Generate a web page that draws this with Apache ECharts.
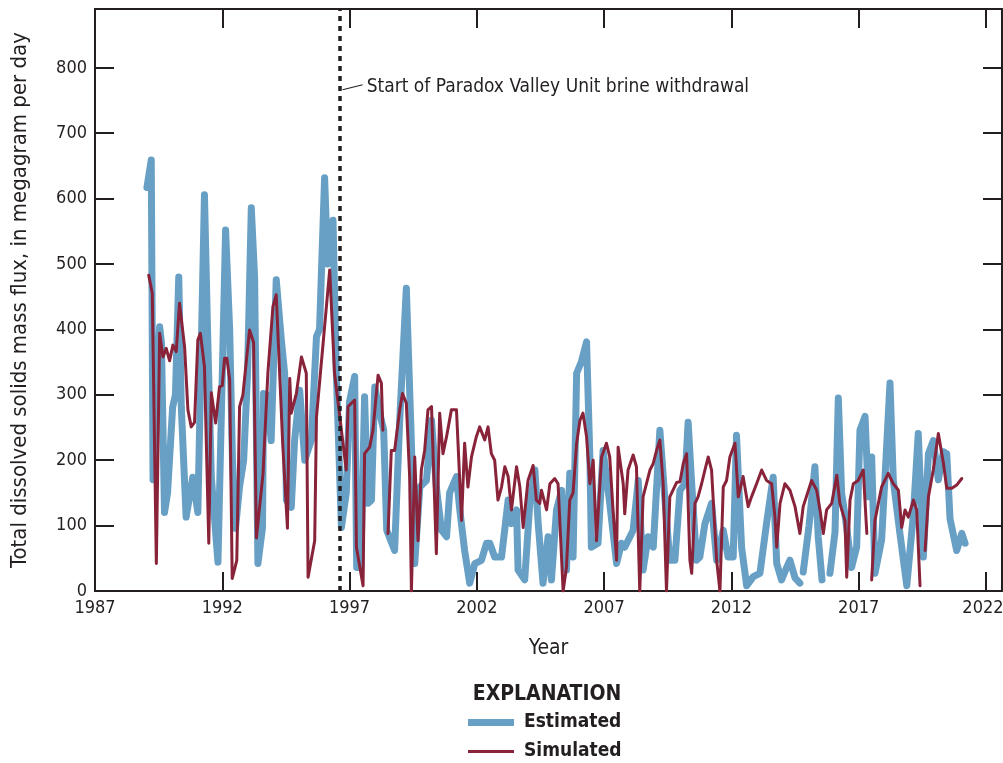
<!DOCTYPE html>
<html><head><meta charset="utf-8">
<script src="https://cdn.jsdelivr.net/npm/echarts@6/dist/echarts.min.js"></script>
<style>html,body{margin:0;padding:0;background:#fff;overflow:hidden}#c{width:1003px;height:763px}</style>
</head><body><div id="c"></div>
<script>
// ---- data ----
const estYear = [1989.04,1989.21,1989.28,1989.54,1989.61,1989.73,1989.85,1990.05,1990.16,1990.29,1990.39,1990.58,1990.84,1991.04,1991.30,1991.42,1991.57,1991.83,1992.13,1992.29,1992.40,1992.52,1992.68,1992.84,1992.99,1993.14,1993.27,1993.40,1993.58,1993.62,1993.76,1993.92,1994.12,1994.32,1994.45,1994.52,1994.71,1994.84,1995.04,1995.24,1995.50,1995.70,1995.82,1996.02,1996.14,1996.35,1996.48,1996.68,1996.87,1997.00,1997.20,1997.28,1997.44,1997.59,1997.72,1997.86,1997.99,1998.25,1998.34,1998.46,1998.77,1998.97,1999.23,1999.43,1999.56,1999.76,2000.02,2000.22,2000.41,2000.61,2000.81,2000.93,2001.20,2001.33,2001.52,2001.72,2001.92,2002.18,2002.38,2002.51,2002.70,2002.97,2003.23,2003.36,2003.56,2003.62,2003.88,2004.08,2004.28,2004.41,2004.60,2004.80,2004.93,2005.13,2005.33,2005.52,2005.65,2005.78,2005.92,2006.11,2006.31,2006.44,2006.50,2006.76,2006.96,2007.22,2007.49,2007.68,2007.81,2008.14,2008.34,2008.53,2008.73,2008.93,2009.19,2009.39,2009.58,2009.78,2009.98,2010.17,2010.30,2010.44,2010.63,2010.76,2010.96,2011.22,2011.42,2011.68,2011.87,2012.07,2012.20,2012.40,2012.60,2012.86,2013.12,2013.38,2013.64,2013.78,2013.97,2014.17,2014.30,2014.50,2014.69,2014.75,2014.82,2015.05,2015.28,2015.41,2015.56,2015.70,2015.87,2016.07,2016.20,2016.33,2016.53,2016.72,2016.92,2017.05,2017.25,2017.38,2017.51,2017.64,2017.90,2018.07,2018.23,2018.36,2018.62,2018.89,2019.15,2019.34,2019.54,2019.74,2019.93,2020.13,2020.33,2020.46,2020.59,2020.85,2021.05,2021.18];
const estValue = [617,659,170,404,380,120,150,281,300,480,281,113,174,120,606,400,174,44,552,400,200,96,160,200,330,586,480,42,97,302,300,230,476,384,333,139,128,230,307,200,231,389,400,632,500,567,333,97,150,290,328,36,36,297,134,139,312,261,246,93,62,261,463,226,42,159,169,261,159,93,83,150,175,124,62,12,42,47,73,73,52,52,139,103,124,32,17,134,185,103,12,83,17,124,154,32,180,52,333,351,381,205,67,73,215,134,42,73,67,93,169,32,83,67,246,139,47,47,154,164,258,164,47,52,103,134,47,93,52,52,238,67,8,22,27,103,174,42,17,36,47,20,12,null,29,100,190,83,17,null,27,90,295,150,97,36,67,246,267,144,205,27,78,200,318,169,88,8,118,241,52,210,230,170,213,210,110,62,88,73];
const simYear = [1989.11,1989.25,1989.41,1989.54,1989.67,1989.80,1989.93,1990.06,1990.19,1990.32,1990.39,1990.52,1990.65,1990.78,1990.91,1991.04,1991.14,1991.30,1991.47,1991.57,1991.74,1991.89,1992.00,1992.09,1992.18,1992.29,1992.39,1992.57,1992.68,1992.81,1993.07,1993.14,1993.23,1993.34,1993.60,1993.79,1993.99,1994.12,1994.38,1994.56,1994.65,1994.71,1994.91,1995.11,1995.30,1995.37,1995.63,1995.70,1996.22,1996.41,1996.68,1996.87,1996.94,1997.20,1997.27,1997.53,1997.59,1997.79,1997.92,1998.12,1998.25,1998.31,1998.40,1998.51,1998.64,1998.77,1998.97,1999.08,1999.23,1999.36,1999.43,1999.56,1999.69,1999.82,1999.95,2000.08,2000.22,2000.41,2000.54,2000.67,2000.81,2001.00,2001.20,2001.40,2001.52,2001.65,2001.79,2001.98,2002.11,2002.31,2002.44,2002.57,2002.70,2002.83,2002.97,2003.10,2003.23,2003.36,2003.56,2003.69,2003.82,2004.01,2004.21,2004.34,2004.47,2004.54,2004.74,2004.87,2005.06,2005.19,2005.39,2005.52,2005.65,2005.78,2005.92,2006.05,2006.17,2006.31,2006.44,2006.57,2006.70,2006.90,2007.09,2007.22,2007.35,2007.49,2007.55,2007.75,2007.81,2007.94,2008.14,2008.27,2008.40,2008.53,2008.80,2008.93,2009.06,2009.19,2009.32,2009.45,2009.58,2009.85,2009.98,2010.11,2010.24,2010.37,2010.44,2010.57,2010.69,2010.83,2010.96,2011.09,2011.22,2011.42,2011.55,2011.68,2011.81,2011.94,2012.14,2012.27,2012.46,2012.66,2012.79,2012.99,2013.19,2013.38,2013.58,2013.71,2013.78,2013.91,2014.10,2014.30,2014.50,2014.69,2014.82,2015.15,2015.35,2015.48,2015.61,2015.74,2015.94,2016.14,2016.26,2016.46,2016.53,2016.66,2016.79,2016.98,2017.18,2017.32,2017.42,2017.51,2017.64,2017.90,2018.16,2018.36,2018.56,2018.69,2018.82,2018.95,2019.15,2019.28,2019.41,2019.50,2019.61,2019.74,2019.93,2020.13,2020.33,2020.46,2020.66,2020.85,2021.05];
const simValue = [483,455,42,394,358,371,352,376,366,440,443,373,277,251,258,384,394,343,73,303,257,312,314,356,356,323,19,47,282,300,399,402,380,81,179,333,435,453,220,96,325,272,302,358,333,21,77,266,491,333,246,185,282,292,67,8,210,220,246,330,318,246,null,88,215,215,277,302,287,175,0,205,77,185,215,277,282,57,272,210,236,277,277,108,226,159,205,236,251,231,251,210,200,139,159,190,175,124,190,159,97,169,192,139,134,154,124,164,172,164,0,36,139,150,226,261,272,236,164,200,77,205,226,205,124,47,220,164,118,185,208,190,0,144,185,195,215,231,164,0,144,166,167,195,210,47,27,134,144,164,185,205,185,47,0,159,169,205,226,144,175,129,144,164,185,169,164,113,67,134,164,154,129,88,129,169,154,124,88,124,134,177,134,108,21,139,164,169,185,88,null,17,108,159,180,164,154,97,124,113,139,124,8,null,62,144,185,241,195,157,157,162,172];
const brineStartYear = 1996.61;
const xTicks = {min: 1987, max: 2022.63, step: 5};
const yTicks = {min: 0, max: 890, step: 100};
const seriesNames = ['Estimated', 'Simulated'];

const toPairs = (xs, ys) => xs.map((x, i) => [x, ys[i] == null ? '-' : ys[i]]);
const INK = '#231f20';
const FONT = '"Liberation Sans Narrow","DejaVu Sans Condensed","Arial Narrow",sans-serif';
const isMajor = (v, a) => Math.abs((v - a.min) / a.step - Math.round((v - a.min) / a.step)) < 1e-6;

const chart = echarts.init(document.getElementById('c'), null, {renderer: 'canvas', width: 1003, height: 763});
const baseX = {
  type: 'value', min: xTicks.min, max: xTicks.max, interval: xTicks.step,
  axisLine: {show: true, onZero: false, lineStyle: {color: INK, width: 2}},
  axisTick: {show: true, inside: true, length: 19, lineStyle: {color: INK, width: 2}},
  splitLine: {show: false}
};
const baseY = {
  type: 'value', min: yTicks.min, max: yTicks.max, interval: yTicks.step,
  axisLine: {show: true, onZero: false, lineStyle: {color: INK, width: 2}},
  axisTick: {show: true, inside: true, length: 19, lineStyle: {color: INK, width: 2}},
  splitLine: {show: false}
};
chart.setOption({
  animation: false,
  backgroundColor: '#fff',
  grid: {left: 95, right: 1, top: 9, bottom: 172, containLabel: false, outerBoundsMode: 'none'},
  xAxis: [
    Object.assign({}, baseX, {position: 'bottom', name: 'Year', nameLocation: 'middle', nameGap: 47,
      nameTextStyle: {fontFamily: FONT, fontSize: 21, color: INK},
      axisLabel: {show: true, margin: 8, fontFamily: FONT, fontSize: 18, color: INK, hideOverlap: false,
        formatter: v => {
          if (!isMajor(v, xTicks)) return '';
          const s = String(Math.round(v));
          return v + xTicks.step > xTicks.max ? '{e|' + s + '}' : s;
        },
        rich: {e: {fontFamily: FONT, fontSize: 18, color: INK, padding: [0, 6, 0, 0]}}}}),
    Object.assign({}, baseX, {position: 'top', axisLabel: {show: false}})
  ],
  yAxis: [
    Object.assign({}, baseY, {position: 'left', name: 'Total dissolved solids mass flux, in megagram per day',
      nameLocation: 'middle', nameGap: 64, nameRotate: 90,
      nameTextStyle: {fontFamily: FONT, fontSize: 22, color: INK},
      axisLabel: {show: true, margin: 8, fontFamily: FONT, fontSize: 18, color: INK,
        formatter: v => isMajor(v, yTicks) ? String(Math.round(v)) : ''}}),
    Object.assign({}, baseY, {position: 'right', axisLabel: {show: false}})
  ],
  legend: [
    {data: [{name: seriesNames[0], icon: 'rect'}], left: 468, top: 713, padding: 0, itemWidth: 46, itemHeight: 7,
      textStyle: {fontFamily: FONT, fontSize: 19, fontWeight: 'bold', color: INK, padding: [0, 0, 0, 5]}},
    {data: [{name: seriesNames[1], icon: 'rect'}], left: 468, top: 742, padding: 0, itemWidth: 46, itemHeight: 3,
      textStyle: {fontFamily: FONT, fontSize: 19, fontWeight: 'bold', color: INK, padding: [0, 0, 0, 5]}}
  ],
  series: [
    {name: seriesNames[0], type: 'line', data: toPairs(estYear, estValue), showSymbol: false, symbol: 'none',
      connectNulls: false, color: '#68a0c5',
      lineStyle: {color: '#68a0c5', width: 7, cap: 'round', join: 'round'}, z: 2},
    {name: seriesNames[1], type: 'line', data: toPairs(simYear, simValue), showSymbol: false, symbol: 'none',
      connectNulls: false, color: '#88233a',
      lineStyle: {color: '#88233a', width: 3, cap: 'round', join: 'round'}, z: 3,
      markLine: {silent: true, symbol: 'none', label: {show: false},
        lineStyle: {color: INK, width: 3.5, type: [5, 5]},
        data: [{xAxis: brineStartYear}]}}
  ]
});
const p0 = chart.convertToPixel({xAxisIndex: 0, yAxisIndex: 0}, [brineStartYear, 768]);
chart.setOption({
  graphic: [
    {type: 'line', shape: {x1: p0[0] + 3, y1: p0[1] + 1, x2: p0[0] + 23, y2: p0[1] - 4},
      style: {stroke: INK, lineWidth: 1.2}},
    {type: 'text', x: p0[0] + 27, y: p0[1] - 2,
      style: {text: 'Start of Paradox Valley Unit brine withdrawal', font: '19px ' + FONT, fill: INK,
        verticalAlign: 'middle'}},
    {type: 'text', x: 547, y: 695,
      style: {text: 'EXPLANATION', font: 'bold 21px ' + FONT, fill: INK, align: 'center', verticalAlign: 'middle'}}
  ]
});
</script></body></html>
